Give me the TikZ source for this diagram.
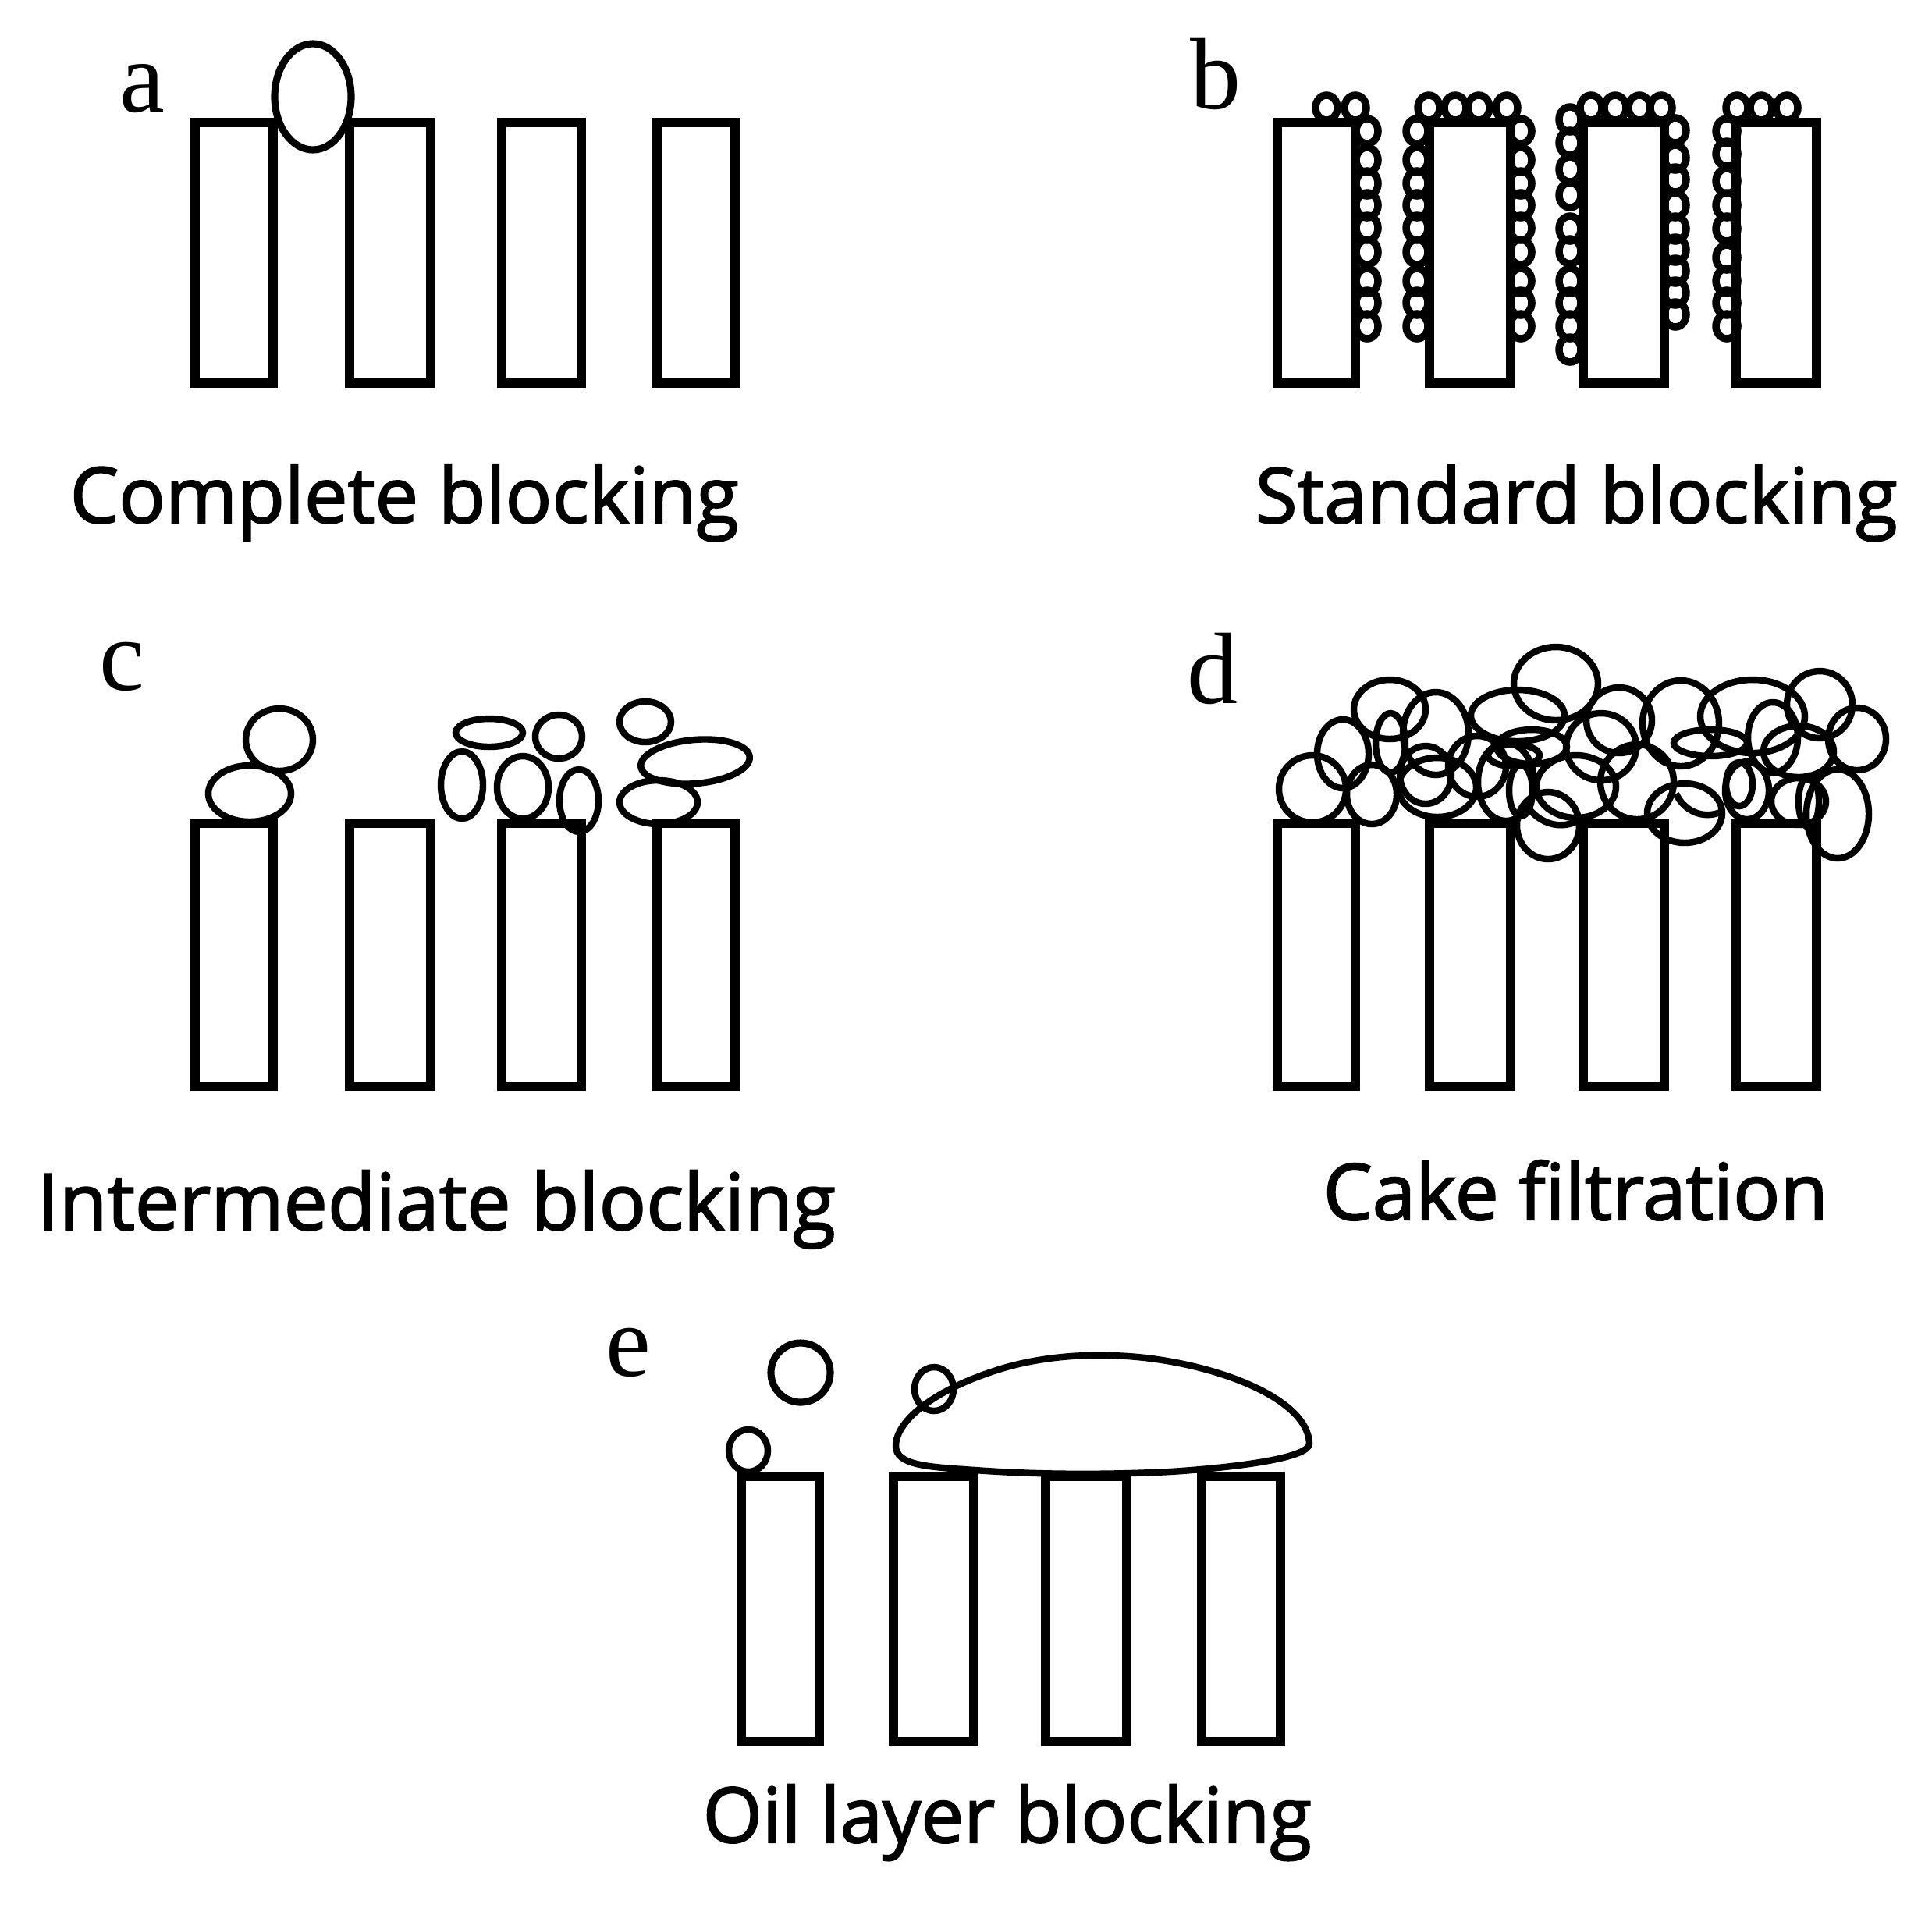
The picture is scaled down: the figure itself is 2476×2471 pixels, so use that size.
\documentclass[tikz,border=0pt]{standalone}
\usepackage{fontspec}
\setmainfont{Liberation Serif}
\newfontfamily\labelfont[FakeBold=2]{Open Sans}
\newlength{\pxu}\setlength{\pxu}{0.01cm}
\tikzset{
  x=0.01cm,y=-0.01cm,
  barshape/.style={draw=black,line width=3.6pt,line join=miter},
  particle/.style={draw=black,line width=2.4pt},
  bead/.style={draw=black,line width=2.7pt},
  caption/.style={anchor=base west,inner sep=0pt,text=black},
  panelletter/.style={anchor=base west,inner sep=0pt,text=black,font=\fontsize{37pt}{37pt}\selectfont}
}
\begin{document}
\begin{tikzpicture}
\useasboundingbox (0,0) rectangle (2476,2471);
% rectangles
\foreach \l/\r in {250/350,448/552,643/745,842/942}{
  \draw[barshape] (\l,157) rectangle (\r,491);
  \draw[barshape] (\l,1055) rectangle (\r,1392);
}
\foreach \l/\r in {1637/1737,1832/1936,2029/2133,2225/2328}{
  \draw[barshape] (\l,157) rectangle (\r,491);
  \draw[barshape] (\l,1055) rectangle (\r,1392);
}
\foreach \l/\r in {950/1050,1145/1248,1340/1444,1540/1641}{
  \draw[barshape] (\l,1892) rectangle (\r,2232);
}
% panel a
\draw[particle,fill=white,line width=2.6pt] (401,124) ellipse [x radius=49,y radius=68];
% panel b
\foreach \x in {1700,1737,1831,1865,1895,1931,2039,2070,2101,2129,2226,2257,2290}
  \draw[bead] (\x,138) ellipse [x radius=14,y radius=16];
\foreach \y in {168,205,235,263,292,323,360,388,418}{
  \draw[bead] (1752,\y) ellipse [x radius=14,y radius=16];
  \draw[bead] (1816,\y) ellipse [x radius=14,y radius=16];
  \draw[bead] (1949,\y) ellipse [x radius=14,y radius=16];
}
\foreach \y in {153,183,217,250,293,322,360,388,418,448}
  \draw[bead] (2012,\y) ellipse [x radius=14,y radius=16];
\foreach \y in {167,202,230,263,293,320,347,375,403}
  \draw[bead] (2147,\y) ellipse [x radius=14,y radius=16];
\foreach \y in {168,197,232,263,293,330,360,388,418}
  \draw[bead] (2213,\y) ellipse [x radius=14,y radius=16];
% panel c
\foreach \x/\y/\a/\b/\t in {
  320/1017/53/36/0, 358/948/43/40/0, 627/939/43/18/0, 592/1006/27/43/0,
  670/1009/33/40/0, 716/944/30/28/0, 742/1026/25/40/0, 827/925/33/26/0,
  891/976/70/28/5, 844/1028/50/28/0}
  \draw[particle,rotate around={\t:(\x,\y)}] (\x,\y) ellipse [x radius=\a,y radius=\b];
% panel d
\foreach \x/\y/\a/\b/\t in {
  1682/1011/43/43/0, 1721/966/33/44/0, 1781/909/46/38/0, 1782/952/19/38/0,
  1758/1018/32/38/0, 1840/940/42/53/0, 1827/993/33/37/0, 1842/1009/50/38/0,
  1893/982/37/39/0, 1945/917/60/33/0, 1994/876/54/47/0, 1963/957/45/22/0,
  1940/968/33/14/0, 1949/1013/15/33/0, 1930/1002/36/50/0, 1984/1058/40/43/0,
  2075/923/42/42/0, 2052/957/45/43/0, 2020/1008/51/40/0,
  2098/1002/47/48/0, 2159/1042/48/38/0, 2154/927/49/55/0,
  2192/952/47/17/0, 2246/918/67/47/0, 2332/903/42/43/0, 2380/947/37/40/0,
  2272/945/32/45/0, 2305/963/45/33/0, 2239/1013/28/37/0, 2229/1005/17/28/0,
  2305/1027/35/30/0, 2318/1027/13/33/0, 2355/1043/40/57/0}
  \draw[particle,rotate around={\t:(\x,\y)}] (\x,\y) ellipse [x radius=\a,y radius=\b];
\draw[particle] (1960,1037) .. controls (1972,1052) and (1995,1064) .. (2020,1053);
\draw[particle] (2148,1017) .. controls (2156,1036) and (2180,1052) .. (2207,1040);
% panel e
\draw[particle,line width=2.6pt] (1026,1759) ellipse [x radius=38,y radius=38];
\draw[particle] (959,1859) ellipse [x radius=25,y radius=27];
\draw[particle] (1197,1780) ellipse [x radius=25,y radius=28];
\draw[particle] (1148,1853) .. controls (1148,1820) and (1200,1778) .. (1290,1752)
  .. controls (1340,1738) and (1390,1736) .. (1420,1737)
  .. controls (1530,1738) and (1676,1785) .. (1678,1850)
  .. controls (1678,1868) and (1590,1880) .. (1500,1886)
  .. controls (1420,1890) and (1330,1890) .. (1250,1884)
  .. controls (1190,1880) and (1148,1878) .. (1148,1853) -- cycle;
% captions
\node[caption] (capa) at (89,670) {\resizebox{857\pxu}{!}{\labelfont Complete blocking}};
\node[caption] (capb) at (1608,670) {\resizebox{823\pxu}{!}{\labelfont Standard blocking}};
\node[caption] (capc) at (47,1576) {\resizebox{1023\pxu}{!}{\labelfont Intermediate blocking}};
\node[caption] (capd) at (1695,1563) {\resizebox{647\pxu}{!}{\labelfont Cake filtration}};
\node[caption] (cape) at (900,2361) {\resizebox{780\pxu}{!}{\labelfont Oil layer blocking}};
% letters
\node[panelletter] (la) at (153,143) {a};
\node[panelletter] (lb) at (1525,139) {b};
\node[panelletter] (lc) at (127,884) {c};
\node[panelletter] (ld) at (1521,901) {d};
\node[panelletter] (le) at (776,1763) {e};
\end{tikzpicture}
\end{document}
